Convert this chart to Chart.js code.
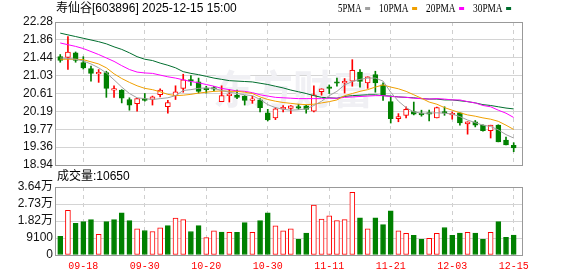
<!DOCTYPE html>
<html>
<head>
<meta charset="utf-8">
<script src="https://cdn.jsdelivr.net/npm/chart.js@4.4.1/dist/chart.umd.min.js"></script>
<style>
  html, body { margin: 0; padding: 0; background: #fff; }
  #wrap { position: relative; width: 578px; height: 276px; }
  #wrap canvas { position: absolute; left: 0; top: 0; }
</style>
</head>
<body>
<div id="wrap">
  <canvas id="price" width="578" height="276"></canvas>
  <canvas id="vol" width="578" height="276"></canvas>
</div>
<script>
// 寿仙谷 日K线 (2025-09-15 ~ 2025-12-15, 60个交易日)
const stockName = "寿仙谷";
const stockCode = "603896";
const stamp = "2025-12-15 15:00";

const dates = [
  "09-15", "09-16", "09-17", "09-18", "09-19", "09-22", "09-23", "09-24", "09-25", "09-26",
  "09-29", "09-30", "10-09", "10-10", "10-13", "10-14", "10-15", "10-16", "10-17", "10-20",
  "10-21", "10-22", "10-23", "10-24", "10-27", "10-28", "10-29", "10-30", "10-31", "11-03",
  "11-04", "11-05", "11-06", "11-07", "11-10", "11-11", "11-12", "11-13", "11-14", "11-17",
  "11-18", "11-19", "11-20", "11-21", "11-24", "11-25", "11-26", "11-27", "11-28", "12-01",
  "12-02", "12-03", "12-04", "12-05", "12-08", "12-09", "12-10", "12-11", "12-12", "12-15"
];
const dateTicks = ["09-18", "09-30", "10-20", "10-30", "11-11", "11-21", "12-03", "12-15"];

const opens = [
  21.47, 21.45, 21.56, 21.33, 21.19, 21.07, 21.10, 20.69, 20.69, 20.47,
  20.37, 20.49, 20.47, 20.58, 20.30, 20.56, 20.73, 20.93, 20.88, 20.71,
  20.75, 20.42, 20.56, 20.57, 20.55, 20.45, 20.46, 20.16, 20.04, 20.25,
  20.26, 20.30, 20.32, 20.20, 20.65, 20.75, 20.87, 20.86, 20.90, 21.11,
  20.86, 21.05, 20.81, 20.42, 20.02, 20.10, 20.19, 20.12, 20.14, 20.04,
  20.19, 20.11, 20.16, 19.90, 19.95, 19.87, 19.74, 19.87, 19.52, 19.40
];
const highs = [
  21.52, 21.94, 21.58, 21.47, 21.25, 21.17, 21.13, 20.79, 20.70, 20.51,
  20.50, 20.61, 20.55, 20.72, 20.45, 20.79, 21.06, 21.03, 20.97, 20.78,
  20.78, 20.79, 20.70, 20.69, 20.56, 20.55, 20.49, 20.24, 20.28, 20.33,
  20.33, 20.36, 20.34, 20.79, 20.72, 20.81, 20.97, 20.96, 21.40, 21.17,
  21.00, 21.13, 20.86, 20.53, 20.14, 20.30, 20.41, 20.22, 20.22, 20.29,
  20.30, 20.18, 20.16, 19.95, 19.98, 19.88, 19.87, 19.88, 19.59, 19.46
];
const lows = [
  21.34, 21.17, 21.34, 21.18, 20.90, 20.87, 20.52, 20.52, 20.39, 20.22,
  20.20, 20.43, 20.34, 20.53, 20.15, 20.47, 20.64, 20.80, 20.62, 20.62,
  20.67, 20.42, 20.41, 20.49, 20.34, 20.38, 20.18, 19.97, 20.00, 20.18,
  20.14, 20.24, 20.15, 20.18, 20.57, 20.61, 20.78, 20.62, 20.78, 20.76,
  20.73, 20.64, 20.45, 19.92, 19.95, 20.04, 20.11, 20.08, 19.97, 20.04,
  20.10, 20.01, 19.87, 19.66, 19.83, 19.73, 19.57, 19.48, 19.41, 19.25
];
const closes = [
  21.38, 21.58, 21.38, 21.21, 21.08, 21.10, 20.73, 20.72, 20.50, 20.34,
  20.49, 20.45, 20.53, 20.69, 20.40, 20.65, 20.93, 20.90, 20.66, 20.70,
  20.71, 20.56, 20.58, 20.52, 20.45, 20.48, 20.28, 19.99, 20.25, 20.27,
  20.32, 20.27, 20.24, 20.58, 20.72, 20.73, 20.85, 20.89, 21.15, 20.89,
  21.00, 20.86, 20.58, 20.02, 20.07, 20.24, 20.13, 20.11, 20.13, 20.28,
  20.15, 20.13, 19.92, 19.95, 19.87, 19.74, 19.87, 19.48, 19.41, 19.34
];

const ma5 = [
  21.44, 21.43, 21.41, 21.37, 21.30, 21.21, 21.09, 20.93, 20.76, 20.61,
  20.51, 20.49, 20.47, 20.49, 20.51, 20.56, 20.68, 20.70, 20.73, 20.74,
  20.73, 20.68, 20.64, 20.61, 20.58, 20.56, 20.47, 20.35, 20.28, 20.24,
  20.22, 20.23, 20.25, 20.33, 20.43, 20.56, 20.66, 20.81, 20.89, 20.94,
  20.97, 20.97, 20.90, 20.64, 20.43, 20.28, 20.18, 20.15, 20.15, 20.16,
  20.15, 20.13, 20.07, 19.99, 19.93, 19.87, 19.84, 19.76, 19.65, 19.57
];
const ma10 = [
  21.41, 21.41, 21.41, 21.40, 21.35, 21.30, 21.21, 21.07, 20.96, 20.87,
  20.79, 20.73, 20.70, 20.65, 20.59, 20.56, 20.57, 20.59, 20.62, 20.64,
  20.66, 20.67, 20.66, 20.66, 20.64, 20.61, 20.53, 20.47, 20.43, 20.40,
  20.38, 20.36, 20.35, 20.36, 20.39, 20.42, 20.46, 20.56, 20.61, 20.66,
  20.70, 20.76, 20.81, 20.76, 20.72, 20.66, 20.58, 20.50, 20.41, 20.36,
  20.28, 20.22, 20.16, 20.11, 20.08, 20.04, 20.01, 19.96, 19.87, 19.77
];
const ma20 = [
  21.79, 21.75, 21.71, 21.66, 21.59, 21.52, 21.44, 21.36, 21.26, 21.17,
  21.11, 21.09, 21.08, 21.04, 21.00, 20.97, 20.93, 20.89, 20.86, 20.82,
  20.78, 20.73, 20.70, 20.67, 20.66, 20.63, 20.58, 20.55, 20.52, 20.51,
  20.50, 20.49, 20.49, 20.49, 20.49, 20.50, 20.50, 20.52, 20.53, 20.54,
  20.55, 20.56, 20.56, 20.54, 20.53, 20.52, 20.50, 20.49, 20.48, 20.49,
  20.48, 20.46, 20.46, 20.42, 20.39, 20.33, 20.30, 20.22, 20.15, 20.05
];
const ma30 = [
  22.02, 21.98, 21.94, 21.90, 21.86, 21.82, 21.77, 21.70, 21.64, 21.56,
  21.47, 21.41, 21.38, 21.32, 21.27, 21.21, 21.12, 21.08, 21.05, 21.01,
  20.97, 20.94, 20.91, 20.90, 20.89, 20.88, 20.85, 20.82, 20.78, 20.74,
  20.69, 20.65, 20.61, 20.56, 20.52, 20.51, 20.50, 20.54, 20.56, 20.57,
  20.58, 20.58, 20.56, 20.55, 20.53, 20.52, 20.51, 20.49, 20.48, 20.48,
  20.46, 20.46, 20.44, 20.42, 20.39, 20.35, 20.33, 20.30, 20.27, 20.25
];

// 成交量(手) 与 量柱颜色(1=涨 红, 0=跌 绿)
const volumes = [
  9975, 23975, 16975, 17850, 18900, 11025, 17850, 18900, 22575, 18375,
  14000, 13125, 12600, 14525, 15750, 19775, 18900, 12600, 15750, 9275,
  12950, 12250, 12075, 12075, 17325, 12075, 18375, 22575, 15575, 12950,
  14000, 8400, 11725, 26775, 19250, 21000, 18375, 18900, 33600, 19950,
  14000, 19950, 16275, 23625, 12950, 11550, 10500, 8400, 8925, 11550,
  14700, 10500, 11725, 12075, 11725, 8400, 12075, 17850, 9450, 10650
];
const volUp = [
  0, 1, 0, 0, 0, 1, 0, 0, 0, 0,
  1, 0, 1, 1, 0, 1, 1, 0, 0, 1,
  1, 0, 1, 0, 0, 1, 0, 0, 1, 1,
  1, 0, 0, 1, 1, 1, 1, 1, 1, 0,
  1, 0, 0, 0, 1, 1, 0, 0, 1, 1,
  0, 0, 0, 1, 0, 0, 1, 0, 0, 0
];

const priceTickLabels = ["18.94", "19.36", "19.77", "20.19", "20.61", "21.03", "21.44", "21.86", "22.28"];
const volTickLabels = ["0", "9100", "1.82万", "2.73万", "3.64万"];
const priceMin = 18.94, priceMax = 22.28;
const volMax = 36400;

const maNames = ["5PMA", "10PMA", "20PMA", "30PMA"];
const maColors = ["#a0a0a0", "#f0a000", "#ff00ff", "#006e2e"];

// ---- 样式 ----
const UP = "#ff0000";
const DOWN = "#008000";
const xMin = -0.552, xMax = 60.08;
const tickIdx = dateTicks.map(d => dates.indexOf(d));
const labelFont = '"Liberation Sans", "Noto Sans CJK SC"';

const isUp = closes.map((c, i) => c >= opens[i]);

// 外框
const frame = {
  id: "frame",
  afterDraw(chart) {
    const { ctx, chartArea: a } = chart;
    ctx.save();
    ctx.strokeStyle = "#999";
    ctx.lineWidth = 1;
    ctx.strokeRect(Math.round(a.left) - 0.5, Math.round(a.top) + 0.5,
      Math.round(a.right - a.left) + 1, Math.round(a.bottom - a.top));
    ctx.restore();
  }
};

// 标题 + 均线图例 + 水印
const header = {
  id: "header",
  beforeDatasetsDraw(chart) {
    const ctx = chart.ctx;
    ctx.save();
    ctx.font = 'bold 40px "Noto Sans CJK SC"';
    ctx.fillStyle = "#f0f0f4";
    ctx.textAlign = "center";
    ctx.textBaseline = "middle";
    ctx.fillText("东方财富", 293, 89);
    ctx.restore();
  },
  afterDraw(chart) {
    const ctx = chart.ctx;
    ctx.save();
    ctx.textBaseline = "middle";
    ctx.fillStyle = "#000";
    ctx.font = '12px "Liberation Sans", "Noto Sans CJK SC"';
    ctx.fillText(stockName + "[" + stockCode + "] " + stamp, 56, 9);

    ctx.font = '13px "Liberation Serif"';
    let x = 338;
    maNames.forEach((name, k) => {
      const w = name.length * 5.9;
      ctx.fillStyle = "#000";
      ctx.fillText(name, x, 9, w);
      x += w + 3.5;
      ctx.fillStyle = maColors[k];
      ctx.fillRect(x, 7, 5, 3);
      x += 5 + 9;
    });
    ctx.restore();
  }
};

const volLabel = {
  id: "volLabel",
  afterDraw(chart) {
    const ctx = chart.ctx;
    ctx.save();
    ctx.textBaseline = "middle";
    ctx.fillStyle = "#000";
    ctx.font = '12px "Liberation Sans", "Noto Sans CJK SC"';
    ctx.fillText("成交量:" + volumes[volumes.length - 1], 57, 177);
    ctx.restore();
  }
};

const xScale = (showLabels) => ({
  type: "linear",
  min: xMin,
  max: xMax,
  offset: false,
  afterBuildTicks(s) { s.ticks = tickIdx.map(v => ({ value: v })); },
  afterFit(s) { s.height = showLabels ? 21 : 0; },
  ticks: {
    display: showLabels,
    callback: v => dates[v],
    color: UP,
    font: { family: '"Liberation Mono"', size: 10 },
    padding: 5,
    maxRotation: 0,
    autoSkip: false
  },
  grid: { color: "#cfcfcf", drawTicks: false, offset: false },
  border: { display: false, dash: [4, 4] }
});

const yScale = (min, max, labels) => ({
  min: min,
  max: max,
  afterFit(s) { s.width = 56; },
  afterBuildTicks(s) {
    s.ticks = labels.map((t, k) => ({ value: min + k * (max - min) / (labels.length - 1) }));
  },
  ticks: {
    callback: (v, k) => labels[k],
    color: "#111",
    font: { family: labelFont, size: 12 },
    padding: 3,
    autoSkip: false
  },
  grid: { color: "#d4d4d4", drawTicks: false },
  border: { display: false }
});

const common = {
  responsive: false,
  animation: false,
  events: [],
  plugins: { legend: { display: false }, tooltip: { enabled: false } }
};

// ---- K线图 ----
const maSets = [ma5, ma10, ma20, ma30].map((arr, k) => ({
  type: "line",
  label: maNames[k],
  data: arr.map((v, i) => ({ x: i, y: v })),
  borderColor: maColors[k],
  borderWidth: 1,
  pointRadius: 0,
  tension: 0,
  order: 0
}));

new Chart(document.getElementById("price"), {
  type: "bar",
  data: {
    datasets: [
      ...maSets,
      {
        label: "body",
        data: opens.map((o, i) => ({ x: i, y: [o, closes[i]] })),
        backgroundColor: isUp.map(u => (u ? "#fff" : DOWN)),
        borderColor: isUp.map(u => (u ? UP : DOWN)),
        borderWidth: 1,
        borderSkipped: false,
        barThickness: 5,
        minBarLength: 1.5,
        grouped: false,
        order: 1
      },
      {
        label: "wick",
        data: lows.map((l, i) => ({ x: i, y: [l, highs[i]] })),
        backgroundColor: isUp.map(u => (u ? UP : DOWN)),
        barThickness: 1,
        grouped: false,
        order: 2
      }
    ]
  },
  options: {
    ...common,
    layout: { padding: { left: 0, right: 56, top: 22, bottom: 111 } },
    scales: {
      x: xScale(false),
      y: yScale(priceMin, priceMax, priceTickLabels)
    }
  },
  plugins: [header, frame]
});

// ---- 成交量 ----
new Chart(document.getElementById("vol"), {
  type: "bar",
  data: {
    datasets: [{
      label: "成交量",
      data: volumes.map((v, i) => ({ x: i, y: v })),
      backgroundColor: volUp.map(u => (u ? "#fff" : DOWN)),
      borderColor: volUp.map(u => (u ? UP : DOWN)),
      borderWidth: 1,
      borderSkipped: false,
      barThickness: 5,
      grouped: false
    }]
  },
  options: {
    ...common,
    layout: { padding: { left: 0, right: 56, top: 187, bottom: 0 } },
    scales: {
      x: xScale(true),
      y: yScale(0, volMax, volTickLabels)
    }
  },
  plugins: [volLabel, frame]
});
</script>
</body>
</html>
